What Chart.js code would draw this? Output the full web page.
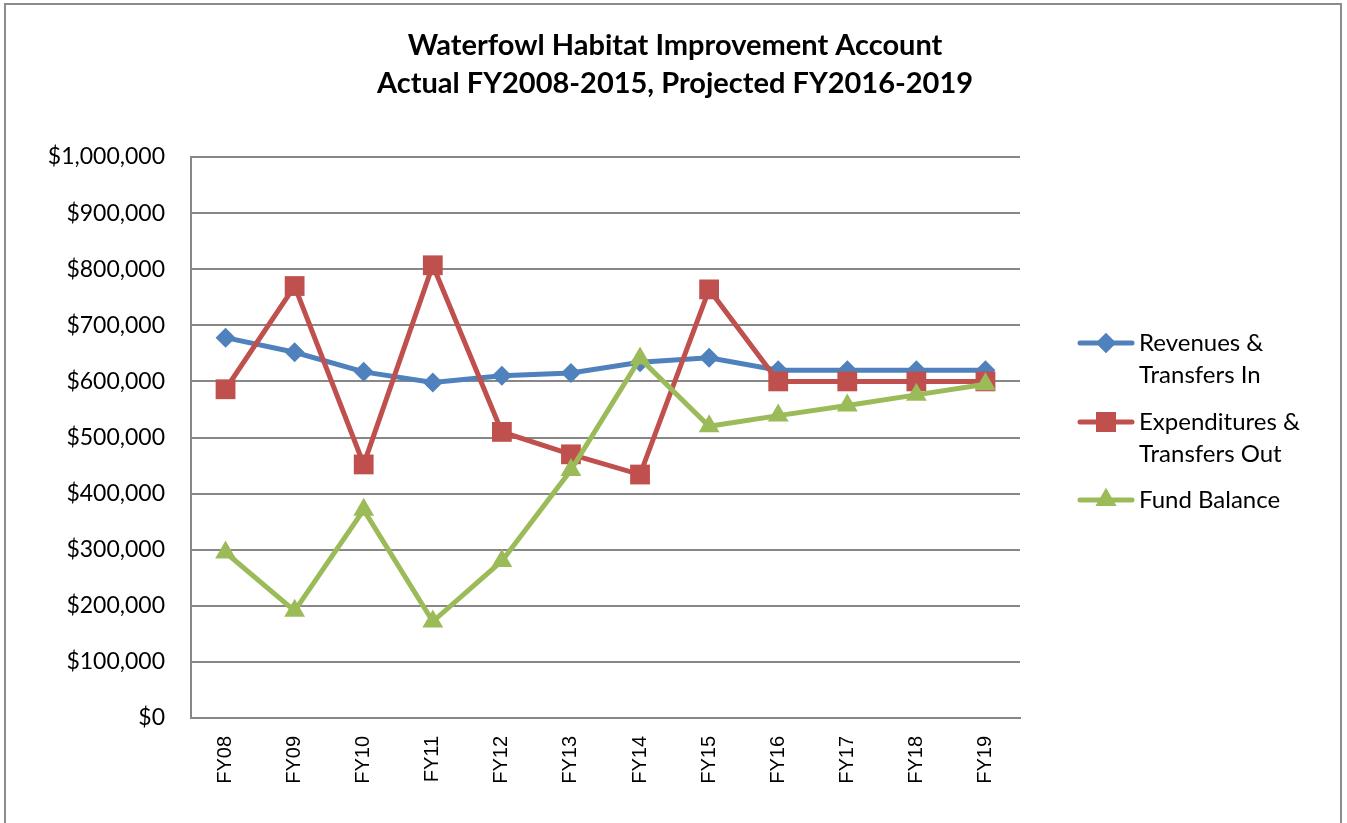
<!DOCTYPE html>
<html>
<head>
<meta charset="utf-8">
<script src="https://cdn.jsdelivr.net/npm/chart.js@4.4.1/dist/chart.umd.min.js"></script>
<style>
  html, body { margin: 0; padding: 0; background: #fff; }
  #wrap { position: relative; width: 1347px; height: 823px; }
</style>
</head>
<body>
<div id="wrap"><canvas id="chart" width="1347" height="823"></canvas></div>
<script>
const years = ['FY08', 'FY09', 'FY10', 'FY11', 'FY12', 'FY13', 'FY14', 'FY15', 'FY16', 'FY17', 'FY18', 'FY19'];
const revenues = [678000, 652000, 617000, 598000, 610000, 615000, 634000, 642000, 620000, 620000, 620000, 620000];
const expenditures = [586000, 770000, 452000, 807000, 510000, 470000, 434000, 764000, 600000, 600000, 600000, 600000];
const fundBalance = [295000, 191000, 371000, 172000, 280000, 442000, 641000, 520000, 539000, 557000, 576000, 595000];
const titleLines = ['Waterfowl Habitat Improvement Account', 'Actual FY2008-2015, Projected FY2016-2019'];
const legendLabels = [['Revenues &', 'Transfers In'], ['Expenditures &', 'Transfers Out'], ['Fund Balance']];

const blue = '#4F81BD';
const red = '#C0504D';
const green = '#9BBB59';
const gridColor = '#878787';
const bodyFont = 'Lato, "Open Sans", sans-serif';

function money(v) {
    return '$' + Number(v).toLocaleString('en-US');
}

// frame, title and the two-line legend drawn straight on the canvas
const decorations = {
    id: 'decorations',
    beforeDraw(chart) {
        const c = chart.ctx;
        c.save();
        c.strokeStyle = '#8c8c8c';
        c.lineWidth = 2;
        c.strokeRect(5, 4, 1336, 840);
        c.restore();
    },
    afterDraw(chart) {
        const c = chart.ctx;
        c.save();
        c.fillStyle = '#000';
        c.textAlign = 'center';
        c.textBaseline = 'middle';
        c.font = 'bold 29px ' + bodyFont;
        c.fillText(titleLines[0], 675, 46);
        c.fillText(titleLines[1], 675, 84);

        const rows = [343, 422, 500];
        const styles = ['rectRot', 'rect', 'triangle'];
        const radii = [10, 14, 12];
        c.font = '24px ' + bodyFont;
        c.textAlign = 'left';
        chart.data.datasets.forEach((ds, i) => {
            const y = rows[i];
            c.strokeStyle = ds.borderColor;
            c.lineWidth = 5;
            c.lineCap = 'round';
            c.beginPath();
            c.moveTo(1080, y);
            c.lineTo(1132, y);
            c.stroke();
            c.fillStyle = ds.borderColor;
            Chart.helpers.drawPoint(c, { pointStyle: styles[i], radius: radii[i], borderWidth: 0 }, 1106, y);
            c.fill();
            c.fillStyle = '#000';
            legendLabels[i].forEach((line, k) => {
                c.fillText(line, 1139, y + k * 32);
            });
        });
        c.restore();
    }
};

new Chart(document.getElementById('chart'), {
    type: 'line',
    data: {
        labels: years,
        datasets: [
            {
                label: 'Revenues & Transfers In',
                data: revenues,
                borderColor: blue,
                backgroundColor: blue,
                pointStyle: 'rectRot',
                pointRadius: 10,
                order: 3
            },
            {
                label: 'Expenditures & Transfers Out',
                data: expenditures,
                borderColor: red,
                backgroundColor: red,
                pointStyle: 'rect',
                pointRadius: 14,
                order: 2
            },
            {
                label: 'Fund Balance',
                data: fundBalance,
                borderColor: green,
                backgroundColor: green,
                pointStyle: 'triangle',
                pointRadius: 12,
                order: 1
            }
        ]
    },
    options: {
        responsive: false,
        animation: false,
        devicePixelRatio: 1,
        elements: {
            line: { borderWidth: 5, tension: 0 },
            point: { borderWidth: 0, hoverRadius: 10 }
        },
        layout: { padding: { left: 0, right: 327, top: 157, bottom: 0 } },
        plugins: {
            legend: { display: false },
            title: { display: false },
            tooltip: { enabled: false }
        },
        scales: {
            x: {
                offset: true,
                grid: { display: false, drawTicks: false },
                border: { color: gridColor, width: 2 },
                ticks: {
                    color: '#000',
                    font: { family: '"Liberation Sans", Arial, sans-serif', size: 20 },
                    minRotation: 90,
                    maxRotation: 90,
                    padding: 18,
                    autoSkip: false
                },
                afterFit(axis) { axis.height = 105; }
            },
            y: {
                min: 0,
                max: 1000000,
                grid: { color: gridColor, lineWidth: 2, drawTicks: false },
                border: { color: gridColor, width: 2 },
                ticks: {
                    stepSize: 100000,
                    color: '#000',
                    font: { family: bodyFont, size: 23 },
                    padding: 26,
                    callback: v => money(v)
                },
                afterFit(axis) { axis.width = 191; }
            }
        }
    },
    plugins: [decorations]
});
</script>
</body>
</html>
